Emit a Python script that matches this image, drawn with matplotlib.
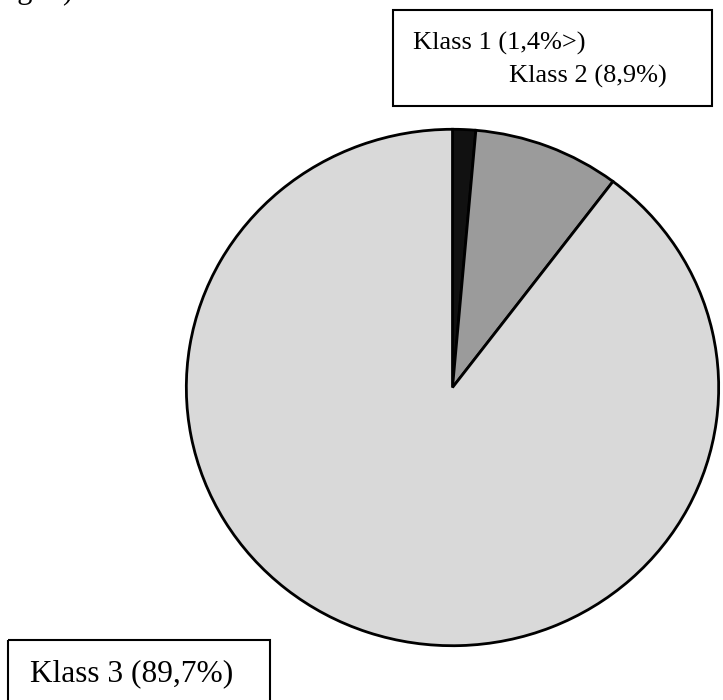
import matplotlib.pyplot as plt
from matplotlib.patches import Rectangle

# pie data (share in percent), drawn clockwise from 12 o'clock
classes = ["Klass 1", "Klass 2", "Klass 3"]
shares = [1.4, 8.9, 89.7]
colors = ["#111111", "#9b9b9b", "#d9d9d9"]

W, H = 723, 700
fig = plt.figure(figsize=(W / 100, H / 100), dpi=100)
plt.rcParams['font.family'] = ['Liberation Serif', 'DejaVu Serif']

# pie axes: the scanned circle is slightly wider than tall
cx, cy, rx, ry = 452.5, 387.5, 267.5, 259.5
ax = fig.add_axes([(cx - rx) / W, (H - cy - ry) / H, 2 * rx / W, 2 * ry / H])
ax.pie(shares, colors=colors, startangle=90, counterclock=False, radius=1,
       wedgeprops=dict(edgecolor="black", linewidth=2.0))
ax.set_aspect("auto")
ax.set_xlim(-1.005, 1.005)
ax.set_ylim(-1.005, 1.005)
ax.axis("off")

# overlay in pixel coordinates for boxes and labels
ov = fig.add_axes([0, 0, 1, 1])
ov.set_xlim(0, W)
ov.set_ylim(H, 0)
ov.axis("off")

ov.add_patch(Rectangle((393, 10), 319, 96, fill=False, edgecolor="black", linewidth=1.5))
ov.add_patch(Rectangle((8, 640), 262, 70, fill=False, edgecolor="black", linewidth=1.5))

ov.text(413, 50, f"{classes[0]} (1,4%>)", fontsize=19, ha="left", va="baseline")
ov.text(509, 83, f"{classes[1]} ({shares[1]:.1f}%)".replace(".", ","), fontsize=19,
        ha="left", va="baseline")
ov.text(30, 681, f"{classes[2]} ({shares[2]:.1f}%)".replace(".", ","), fontsize=22.6,
        ha="left", va="baseline")

# cut-off text at the very top of the scan
ov.text(2, -2, "ng.", fontsize=22, ha="left", va="baseline")
ov.text(62, -2, ")", fontsize=22, ha="left", va="baseline")

fig.savefig("out.png", dpi=100)
